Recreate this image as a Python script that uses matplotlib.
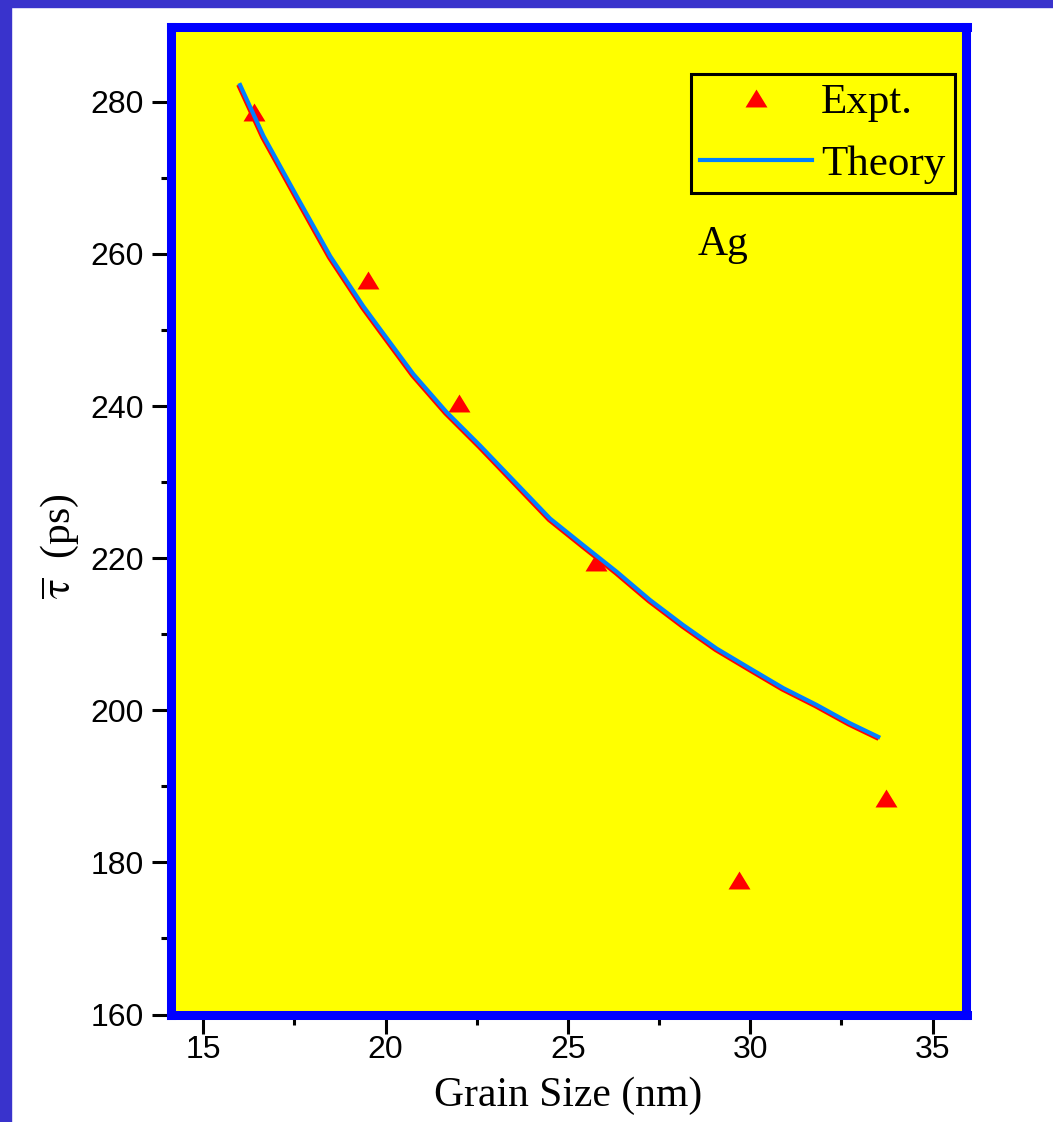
import matplotlib
matplotlib.use("Agg")
import matplotlib.pyplot as plt
from matplotlib.patches import Rectangle
from matplotlib.ticker import MultipleLocator
import matplotlib.transforms as mtransforms

# measured mean lifetime vs grain size (Ag)
expt_size = [16.39, 19.52, 22.01, 25.77, 29.68, 33.72]
expt_tau = [278.6, 256.6, 240.4, 219.5, 177.7, 188.4]

# model curve, read along its length
theory_size = [16.01, 16.65, 17.56, 18.48, 19.39, 19.85, 20.76, 21.67, 22.59,
               23.41, 24.51, 25.42, 26.34, 27.25, 28.16, 29.08, 29.99, 30.91,
               31.82, 32.73, 33.51]
theory_tau = [282.2, 275.5, 267.6, 259.7, 253.1, 250.1, 244.2, 239.2, 234.8,
              230.7, 225.2, 221.7, 218.2, 214.5, 211.2, 208.1, 205.5, 202.9,
              200.7, 198.3, 196.5]

xticks = [15, 20, 25, 30, 35]
yticks = [160, 180, 200, 220, 240, 260, 280]

plt.rcParams['font.family'] = ['Liberation Sans', 'DejaVu Sans']
plt.rcParams['mathtext.fontset'] = 'stix'

W, H = 1053, 1122
fig = plt.figure(figsize=(W / 100, H / 100), dpi=100)

# slide-style frame on the left and top edges
band = '#3933cc'
fig.patches.append(Rectangle((0, 0), 11 / W, 1, transform=fig.transFigure,
                             color=band, zorder=0))
fig.patches.append(Rectangle((0, 1 - 7 / H), 1, 7 / H, transform=fig.transFigure,
                             color=band, zorder=0))

ax = fig.add_axes([170.5 / W, 1 - 1014.5 / H, 796 / W, 988 / H])
ax.set_facecolor('#ffff00')
for sp in ax.spines.values():
    sp.set_color('#0000ff')
    sp.set_linewidth(6.5)
    sp.set_capstyle('projecting')

# red trace sitting just under the blue model curve
shift = mtransforms.offset_copy(ax.transData, fig=fig, x=-1.5, y=-1.5, units='dots')
ax.plot(theory_size, theory_tau, color='#ff0000', lw=2.5, transform=shift, zorder=1.8)

tri = [(-11, -9), (11, -9), (0, 9)]
ax.plot(expt_size, expt_tau, linestyle='none', marker=tri, ms=15.8, mew=0,
        color='#ff0000', label='Expt.', zorder=1.9)
ax.plot(theory_size, theory_tau, color='#0080ff', lw=3.0, label='Theory', zorder=2)

ax.set_xlim(14.1, 35.93)
ax.set_ylim(160.3, 289.9)
ax.set_xticks(xticks)
ax.set_yticks(yticks)
ax.xaxis.set_minor_locator(MultipleLocator(2.5))
ax.yaxis.set_minor_locator(MultipleLocator(10))
ax.tick_params(which='major', direction='out', length=13.5, width=2.2,
               color='k', labelsize=23)
ax.tick_params(which='minor', direction='out', length=7.5, width=2.2, color='k')
ax.tick_params(axis='x', which='major', pad=1.5)
ax.tick_params(axis='y', which='major', pad=6)

ax.set_xlabel('Grain Size (nm)', family='Liberation Serif', fontsize=30)
ax.xaxis.set_label_coords(0.5, -0.063)
ax.set_ylabel(r'$\overline{\mathrm{\tau}}$  (ps)', family='Liberation Serif', fontsize=30)
ax.yaxis.set_label_coords(-0.1124, 0.474)

ax.text(28.56, 259.9, 'Ag', family='Liberation Serif', fontsize=30,
        ha='left', va='baseline')

leg = ax.legend(loc='upper right', bbox_to_anchor=(954.5 / W, 1 - 73.5 / H),
                bbox_transform=fig.transFigure, borderaxespad=0, numpoints=1,
                prop={'family': 'Liberation Serif', 'size': 31},
                handlelength=2.6, handletextpad=0.2, borderpad=0.22,
                labelspacing=0.52, fancybox=False, framealpha=1)
leg.get_frame().set_facecolor('#ffff00')
leg.get_frame().set_edgecolor('k')
leg.get_frame().set_linewidth(2.2)

fig.savefig('out.png', dpi=100)
